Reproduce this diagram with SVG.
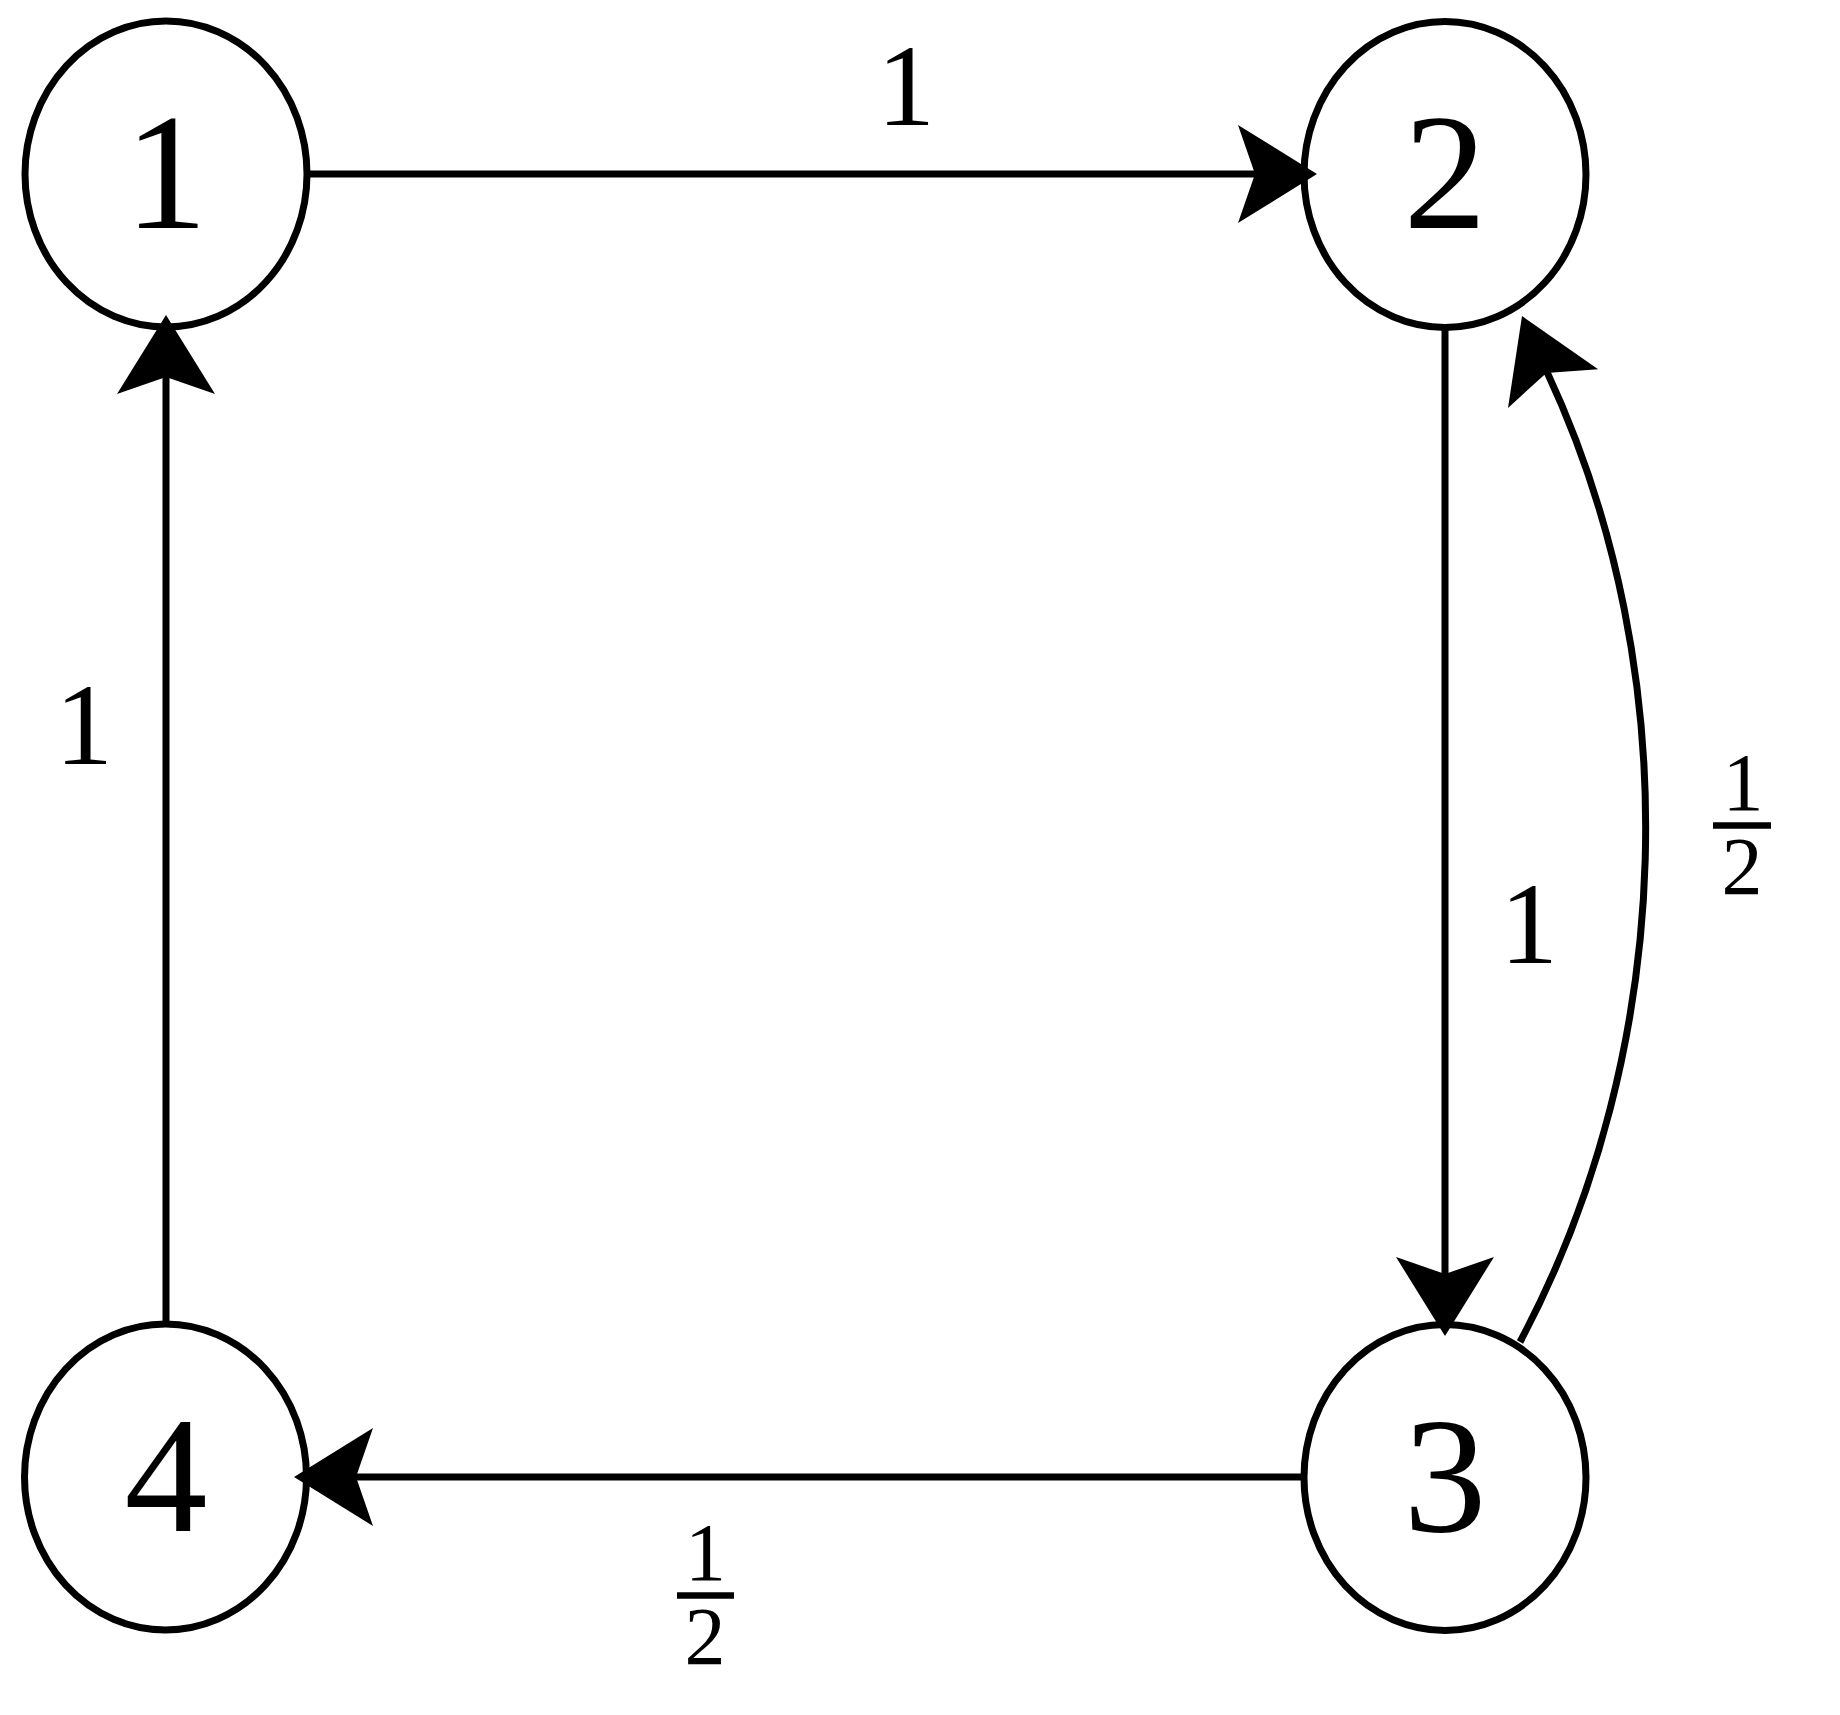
<svg xmlns="http://www.w3.org/2000/svg" xmlns:xlink="http://www.w3.org/1999/xlink" width="1840" height="1715" viewBox="0 0 1840 1715">
<style>
.node{fill:none;stroke:#000;stroke-width:7}
.edge{fill:none;stroke:#000;stroke-width:7;stroke-linecap:butt}
.lbl{font-family:"Liberation Serif","DejaVu Serif",serif;fill:#000;text-anchor:middle}
.big{font-size:166px}
.mid{font-size:116px}
.sm{font-size:82px}
.bar{stroke:#000;stroke-width:6.5}
</style>
<defs>
<path id="ah" d="M0,0 L-79,-49 L-62,0 L-79,49 Z" fill="#000"/>
</defs>
<rect width="1840" height="1715" fill="#fff"/>
<g id="connectors">
<line class="edge" x1="309" y1="174" x2="1258" y2="174"/>
<use xlink:href="#ah" href="#ah" transform="translate(1317,174)"/>
<line class="edge" x1="1445" y1="328" x2="1445" y2="1277"/>
<use xlink:href="#ah" href="#ah" transform="translate(1445,1336) rotate(90)"/>
<line class="edge" x1="1303" y1="1477" x2="353" y2="1477"/>
<use xlink:href="#ah" href="#ah" transform="translate(294,1477) rotate(180)"/>
<line class="edge" x1="166" y1="1324" x2="166" y2="374"/>
<use xlink:href="#ah" href="#ah" transform="translate(166,315) rotate(-90)"/>
<path class="edge" d="M1520,1342 C1677,1046.6 1687.9,673.8 1547,372"/>
<use xlink:href="#ah" href="#ah" transform="translate(1522,316) rotate(-113.15)"/>
</g>
<g id="edge-labels">
<text class="lbl mid" x="906" y="125">1</text>
<text class="lbl mid" x="84" y="764">1</text>
<text class="lbl mid" x="1529" y="963">1</text>
<g id="frac-right">
<text class="lbl sm" x="1743" y="810">1</text>
<line class="bar" x1="1713" y1="825.5" x2="1771" y2="825.5"/>
<text class="lbl sm" x="1742" y="894">2</text>
</g>
<g id="frac-bottom">
<text class="lbl sm" x="705.5" y="1580">1</text>
<line class="bar" x1="677" y1="1595.5" x2="734" y2="1595.5"/>
<text class="lbl sm" x="705" y="1664">2</text>
</g>
</g>
<g id="node1">
<ellipse class="node" cx="166" cy="174" rx="141" ry="153"/>
<text class="lbl big" x="166" y="228">1</text>
</g>
<g id="node2">
<ellipse class="node" cx="1445" cy="174.5" rx="141" ry="153"/>
<text class="lbl big" x="1445" y="228">2</text>
</g>
<g id="node3">
<ellipse class="node" cx="1445" cy="1477.5" rx="141" ry="153"/>
<text class="lbl big" x="1445" y="1531">3</text>
</g>
<g id="node4">
<ellipse class="node" cx="165.5" cy="1477" rx="141" ry="153"/>
<text class="lbl big" x="166" y="1531">4</text>
</g>
</svg>
